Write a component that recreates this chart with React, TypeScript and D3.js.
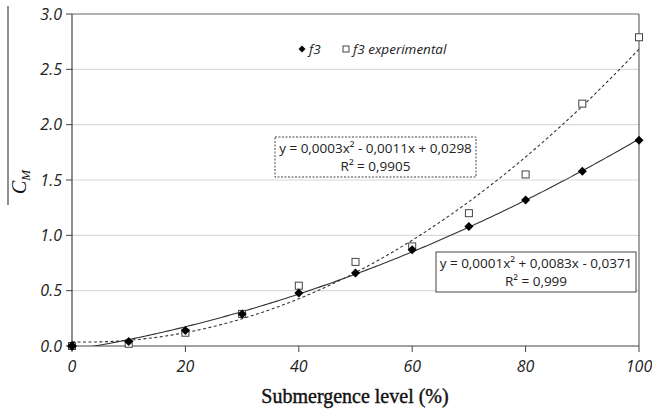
import React from "react";
import * as d3 from "d3";

const levels = [0, 10, 20, 30, 40, 50, 60, 70, 80, 90, 100];
const f3 = [0, 0.04, 0.14, 0.29, 0.48, 0.66, 0.87, 1.08, 1.32, 1.58, 1.86];
const f3Exp = [0, 0.02, 0.12, 0.29, 0.545, 0.76, 0.9, 1.2, 1.55, 2.19, 2.79];
const xTicks = [0, 20, 40, 60, 80, 100];
const yTicks = [0, 0.5, 1, 1.5, 2, 2.5, 3];
const legendLabels = ["f3", "f3 experimental"];
const eqExp = ["y = 0,0003x² - 0,0011x + 0,0298", "R² = 0,9905"];
const eqF3 = ["y = 0,0001x² + 0,0083x - 0,0371", "R² = 0,999"];

function quadFit(xs: number[], ys: number[]) {
  let s0 = 0, s1 = 0, s2 = 0, s3 = 0, s4 = 0, t0 = 0, t1 = 0, t2 = 0;
  xs.forEach((x, i) => {
    const y = ys[i];
    s0 += 1; s1 += x; s2 += x * x; s3 += x ** 3; s4 += x ** 4;
    t0 += y; t1 += x * y; t2 += x * x * y;
  });
  const M = [
    [s4, s3, s2, t2],
    [s3, s2, s1, t1],
    [s2, s1, s0, t0],
  ];
  for (let i = 0; i < 3; i++) {
    for (let k = i + 1; k < 3; k++) {
      const f = M[k][i] / M[i][i];
      for (let j = i; j < 4; j++) M[k][j] -= f * M[i][j];
    }
  }
  const r = [0, 0, 0];
  for (let i = 2; i >= 0; i--) {
    let s = M[i][3];
    for (let j = i + 1; j < 3; j++) s -= M[i][j] * r[j];
    r[i] = s / M[i][i];
  }
  return (x: number) => r[0] * x * x + r[1] * x + r[2];
}

export default function App() {
  const W = 652, H = 413;
  const m = { left: 72, right: 639, top: 14, bottom: 346 };
  const x = d3.scaleLinear().domain([0, 100]).range([m.left, m.right]);
  const y = d3.scaleLinear().domain([0, 3]).range([m.bottom, m.top]);
  const fitA = quadFit(levels, f3);
  const fitB = quadFit(levels, f3Exp);
  const xs = d3.range(0, 100.01, 0.5);
  const gen = d3.line<[number, number]>().x((d) => x(d[0])).y((d) => y(d[1]));
  const pathA = gen(xs.map((v) => [v, fitA(v)] as [number, number]));
  const pathB = gen(xs.map((v) => [v, fitB(v)] as [number, number]));
  const tickFont = "'Open Sans', sans-serif";
  const diamond = (cx: number, cy: number, r = 4.5) =>
    `M${cx},${cy - r}L${cx + r},${cy}L${cx},${cy + r}L${cx - r},${cy}Z`;

  return (
    <svg width={W} height={H} style={{ position: "absolute", left: 0, top: 0 }}>
      <defs>
        <clipPath id="plot">
          <rect x={m.left} y={m.top} width={m.right - m.left} height={m.bottom - m.top} />
        </clipPath>
      </defs>
      <rect width={W} height={H} fill="#fff" />
      {yTicks.slice(1, -1).map((t) => (
        <line key={t} x1={m.left} x2={m.right} y1={y(t)} y2={y(t)} stroke="#d9d9d9" strokeWidth={1.2} />
      ))}
      <line x1={m.left} x2={m.right} y1={m.top} y2={m.top} stroke="#666" strokeWidth={1.2} />
      <line x1={m.right} x2={m.right} y1={m.top} y2={m.bottom} stroke="#666" strokeWidth={1.2} />
      <line x1={m.left} x2={m.left} y1={m.top} y2={m.bottom} stroke="#444" strokeWidth={1.2} />
      <line x1={m.left} x2={m.right} y1={m.bottom} y2={m.bottom} stroke="#444" strokeWidth={1.2} />
      {yTicks.map((t) => (
        <g key={t}>
          <line x1={m.left - 6} x2={m.left} y1={y(t)} y2={y(t)} stroke="#444" />
          <text x={m.left - 10} y={y(t)} dy="0.36em" textAnchor="end" fontFamily={tickFont} fontStyle="italic" fontSize={16} fill="#222">
            {t.toFixed(1)}
          </text>
        </g>
      ))}
      {xTicks.map((t) => (
        <g key={t}>
          <line x1={x(t)} x2={x(t)} y1={m.bottom} y2={m.bottom + 6} stroke="#444" />
          <text x={x(t)} y={m.bottom + 26} textAnchor="middle" fontFamily={tickFont} fontStyle="italic" fontSize={16} fill="#222">
            {t}
          </text>
        </g>
      ))}
      <g clipPath="url(#plot)">
        <path d={pathA || ""} fill="none" stroke="#333" strokeWidth={1.1} />
        <path d={pathB || ""} fill="none" stroke="#333" strokeWidth={1.1} strokeDasharray="3,2.5" />
      </g>
      {levels.map((l, i) => (
        <rect key={"s" + l} x={x(l) - 3.5} y={y(f3Exp[i]) - 3.5} width={7} height={7} fill="#fff" stroke="#444" strokeWidth={1} />
      ))}
      {levels.map((l, i) => (
        <path key={"d" + l} d={diamond(x(l), y(f3[i]), i === 0 ? 5 : 4.5)} fill="#000" />
      ))}
      <path d={diamond(302, 49, 3.5)} fill="#000" />
      <text x={309} y={54} fontFamily={tickFont} fontStyle="italic" fontSize={13.5} fill="#222">{legendLabels[0]}</text>
      <rect x={343} y={46} width={6} height={6} fill="#fff" stroke="#444" />
      <text x={353} y={54} fontFamily={tickFont} fontStyle="italic" fontSize={13.5} fill="#222">{legendLabels[1]}</text>
      <rect x={275} y={137} width={201} height={40} fill="#fff" stroke="#444" strokeDasharray="2,1.5" />
      <text x={375.5} y={153} textAnchor="middle" fontFamily={tickFont} fontSize={13.5} fill="#222">{eqExp[0]}</text>
      <text x={375.5} y={171} textAnchor="middle" fontFamily={tickFont} fontSize={13.5} fill="#222">{eqExp[1]}</text>
      <rect x={436} y={252} width={200} height={40} fill="#fff" stroke="#444" />
      <text x={536} y={268} textAnchor="middle" fontFamily={tickFont} fontSize={13.5} fill="#222">{eqF3[0]}</text>
      <text x={536} y={286} textAnchor="middle" fontFamily={tickFont} fontSize={13.5} fill="#222">{eqF3[1]}</text>
      <text x={355} y={403} textAnchor="middle" fontFamily="'Liberation Serif', serif" fontSize={20} fill="#111" stroke="#111" strokeWidth={0.4}>
        Submergence level (%)
      </text>
      <line x1={8} x2={8} y1={6} y2={205} stroke="#555" strokeWidth={1.3} />
      <text transform="translate(26,182) rotate(-90)" textAnchor="middle" fontFamily="'Liberation Serif', serif" fontStyle="italic" fontSize={20} fill="#111">
        C<tspan fontSize={13} dy={4}>M</tspan>
      </text>
    </svg>
  );
}
